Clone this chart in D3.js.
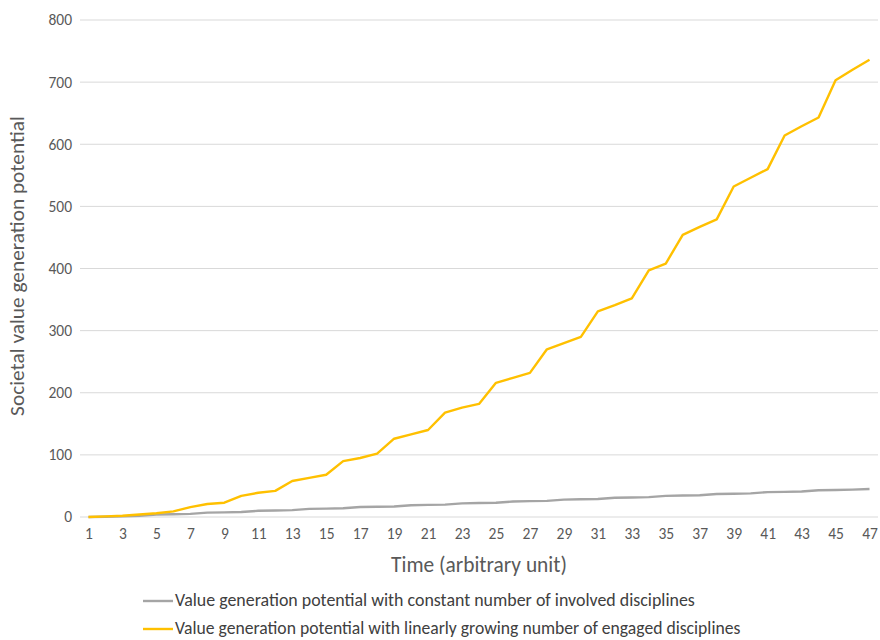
<!DOCTYPE html>
<html>
<head>
<meta charset="utf-8">
<script src="https://cdn.jsdelivr.net/npm/d3@7"></script>
<style>
  body { margin: 0; background: #fff; }
  svg { display: block; }
  text { font-family: Carlito, Lato, "Open Sans", sans-serif; }
</style>
</head>
<body>
<svg id="chart" width="880" height="640"></svg>
<script>
const timeSteps = d3.range(1, 48);
const tickLabels = d3.range(1, 48, 2);
const yTicks = [0, 100, 200, 300, 400, 500, 600, 700, 800];
const constantSeries = [0, 0.5, 1, 2, 4, 4.5, 5, 7, 7.5, 8, 10, 10.5, 11, 13, 13.5, 14, 16, 16.5, 17, 19, 19.5, 20, 22, 22.5, 23, 25, 25.5, 26, 28, 28.5, 29, 31, 31.5, 32, 34, 34.5, 35, 37, 37.5, 38, 40, 40.5, 41, 43, 43.5, 44, 45];
const growingSeries = [0, 1, 2, 4, 6, 9, 16, 21, 23, 34, 39, 42, 58, 63, 68, 90, 95, 102, 126, 133, 140, 168, 176, 182, 216, 224, 232, 270, 280, 290, 331, 341, 352, 397, 408, 454, 467, 479, 532, 546, 560, 614, 629, 643, 703, 720, 736];
const seriesNames = [
  "Value generation potential with constant number of involved disciplines",
  "Value generation potential with linearly growing number of engaged disciplines"
];
const seriesColors = ["#A5A5A5", "#FFC000"];

const svg = d3.select("#chart");
const x = d3.scalePoint().domain(timeSteps).range([80, 878]).padding(0.5);
const y = d3.scaleLinear().domain([0, 800]).range([517, 20]);

function fitWidth(sel, target, base) {
  sel.style("font-size", base + "px");
  const w = sel.node().getComputedTextLength();
  sel.style("font-size", (base * target / w).toFixed(2) + "px");
}

// gridlines
svg.append("g").selectAll("line").data(yTicks.filter(d => d > 0)).join("line")
  .attr("x1", 80).attr("x2", 878)
  .attr("y1", d => y(d)).attr("y2", d => y(d))
  .attr("stroke", "#D9D9D9").attr("stroke-width", 1);

// y axis labels
const yAxis = d3.axisLeft(y).tickValues(yTicks).tickSize(0).tickPadding(8);
const yg = svg.append("g").attr("transform", "translate(80,0)").call(yAxis);
yg.select(".domain").remove();
yg.selectAll("text").attr("fill", "#595959").style("font-size", "15.5px");

// x axis
const xAxis = d3.axisBottom(x).tickValues(tickLabels).tickSize(0).tickPadding(11);
const xg = svg.append("g").attr("transform", `translate(0,${y(0)})`).call(xAxis);
xg.select(".domain").attr("stroke", "#D9D9D9").attr("d", "M80,0H878");
xg.selectAll("text").attr("fill", "#595959").style("font-size", "15.5px");

// lines
const line = d3.line().x((d, i) => x(timeSteps[i])).y(d => y(d));
[constantSeries, growingSeries].forEach((s, k) => {
  svg.append("path").datum(s)
    .attr("fill", "none")
    .attr("stroke", seriesColors[k])
    .attr("stroke-width", 2.4)
    .attr("stroke-linejoin", "round")
    .attr("d", line);
});

// axis titles
const xt = svg.append("text").attr("x", 479).attr("y", 572).attr("text-anchor", "middle")
  .attr("fill", "#595959").text("Time (arbitrary unit)");
fitWidth(xt, 176, 16);
const yt = svg.append("text").attr("transform", "translate(24,266) rotate(-90)").attr("text-anchor", "middle")
  .attr("fill", "#595959").text("Societal value generation potential");
fitWidth(yt, 300, 16);

// legend
const leg = svg.append("g");
seriesNames.forEach((name, k) => {
  const ly = 601 + k * 28;
  leg.append("line").attr("x1", 143).attr("x2", 173).attr("y1", ly).attr("y2", ly)
    .attr("stroke", seriesColors[k]).attr("stroke-width", 2.4);
  const t = leg.append("text").attr("x", 175).attr("y", ly + 5)
    .attr("fill", "#404040").text(name);
  fitWidth(t, k === 0 ? 520 : 566, 14);
});
</script>
</body>
</html>
